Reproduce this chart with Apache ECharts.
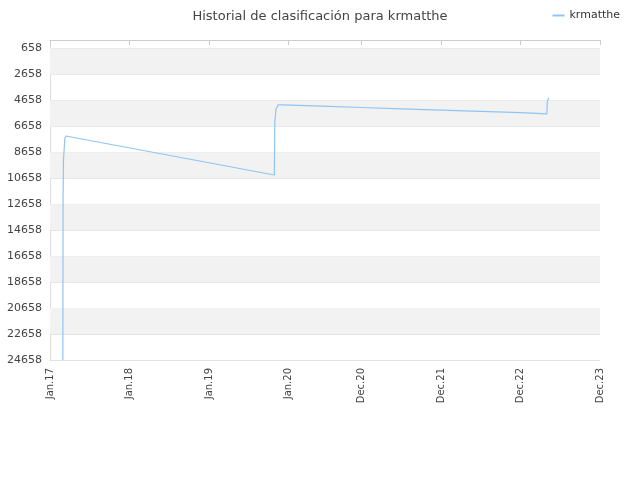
<!DOCTYPE html>
<html><head><meta charset="utf-8">
<script src="https://cdn.jsdelivr.net/npm/echarts@6/dist/echarts.min.js"></script>
<style>html,body{margin:0}#c{width:640px;height:480px}</style></head>
<body><div id="c"></div>
<script>
const dates = ['2017-03-01','2017-03-02','2017-03-04','2017-03-10','2017-03-15','2019-10-28','2019-10-30','2019-11-05','2019-11-15','2019-12-01','2020-06-01','2020-12-01','2021-06-01','2021-12-01','2022-06-01','2022-12-01','2023-04-01','2023-04-03','2023-04-10'];
const ranks = [24658,12000,9200,7600,7400,10400,6300,5300,5000,5000,5100,5200,5300,5400,5500,5600,5700,4750,4450];
const tickDates = ['2017-01-01','2018-01-01','2019-01-01','2020-01-01','2020-12-01','2021-12-01','2022-12-01','2023-12-01'];
const tickLabels = ['Jan.17','Jan.18','Jan.19','Jan.20','Dec.20','Dec.21','Dec.22','Dec.23'];
const yTicks = [658,2658,4658,6658,8658,10658,12658,14658,16658,18658,20658,22658,24658];
const t = d => new Date(d+'T00:00:00Z').getTime();
const tickVals = tickDates.map(t);
const bands = [];
for (let i = 0; i + 1 < yTicks.length; i += 2) bands.push([{yAxis:yTicks[i]},{yAxis:yTicks[i+1]}]);
const chart = echarts.init(document.getElementById('c'));
chart.setOption({
  animation:false,
  title:{text:'Historial de clasificación para krmatthe',left:'center',top:5,textStyle:{fontSize:13,fontWeight:'normal',color:'#444',fontFamily:'DejaVu Sans'}},
  legend:{right:15,top:5,itemWidth:12,itemHeight:2,icon:'rect',textStyle:{fontSize:11,color:'#333',fontFamily:'DejaVu Sans'},data:['krmatthe']},
  grid:{left:50,right:40,top:40,bottom:120},
  xAxis:{type:'value',min:tickVals[0],max:tickVals[tickVals.length-1],
    axisLine:{lineStyle:{color:'#ccc'}},splitLine:{show:false},
    axisTick:{customValues:tickVals,lineStyle:{color:'#ccc'}},
    axisLabel:{customValues:tickVals,rotate:90,fontSize:10,color:'#444',fontFamily:'DejaVu Sans',
      formatter:v=>tickLabels[tickVals.indexOf(v)]}},
  yAxis:{type:'value',inverse:true,min:0,max:24658,
    axisLine:{show:true,lineStyle:{color:'#ddd'}},
    axisTick:{show:false,customValues:yTicks},
    axisLabel:{customValues:yTicks,fontSize:11,color:'#444',fontFamily:'DejaVu Sans',formatter:v=>String(v)},
    splitLine:{show:true,lineStyle:{color:'#e2e2e2'}}},
  series:[{name:'krmatthe',type:'line',showSymbol:false,
    lineStyle:{color:'#90c4f5',width:1.2},itemStyle:{color:'#90c4f5'},
    markArea:{silent:true,itemStyle:{color:'#f2f2f2'},data:bands},
    data:dates.map((d,i)=>[t(d),ranks[i]])}]
});
</script></body></html>
